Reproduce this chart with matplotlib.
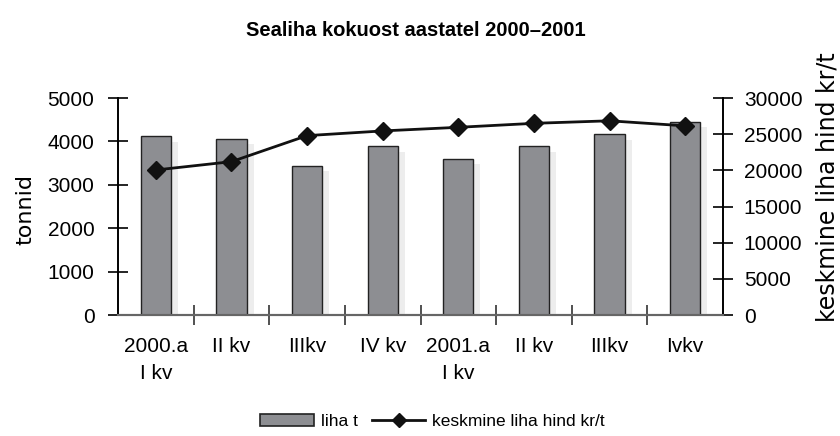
import matplotlib.pyplot as plt
import matplotlib.patheffects as pe
from matplotlib.lines import Line2D
from matplotlib.patches import Patch

# andmed
kvartalid = ["2000.a\nI kv", "II kv", "IIIkv", "IV kv", "2001.a\nI kv", "II kv", "IIIkv", "Ivkv"]
liha_t = [4120, 4060, 3440, 3890, 3600, 3890, 4170, 4450]
hind_kr_t = [20050, 21200, 24800, 25450, 25950, 26500, 26850, 26150]

plt.rcParams['font.family'] = ['Liberation Sans', 'DejaVu Sans']

fig = plt.figure(figsize=(8.4, 4.36), dpi=100)
ax = fig.add_axes([0.1405, 0.2775, 0.7202, 0.4977])
ax2 = ax.twinx()

x = list(range(len(kvartalid)))
varjud = [pe.SimplePatchShadow(offset=(5, -4), shadow_rgbFace='#c4c4c4', alpha=0.3), pe.Normal()]
ax.bar(x, liha_t, width=0.4, color='#8d8e92', edgecolor='#222222', linewidth=1,
       path_effects=varjud, zorder=2)
ax2.plot(x, hind_kr_t, color='#111111', linewidth=2, marker='D', markersize=9, zorder=3)

ax.set_xlim(-0.5, len(kvartalid) - 0.5)
ax.set_ylim(0, 5000)
ax2.set_ylim(0, 30000)
ax.set_yticks(range(0, 5001, 1000))
ax2.set_yticks(range(0, 30001, 5000))

# x-telje kriipsud kategooriate vahel
ax.set_xticks([i + 0.5 for i in x[:-1]], minor=True)
ax.set_xticks(x)
ax.set_xticklabels(kvartalid, fontsize=15, linespacing=1.55, multialignment='center')
ax.tick_params(axis='x', which='major', length=0, pad=16)
ax.tick_params(axis='x', which='minor', direction='inout', length=14, width=1.2, color='#333333')
ax.tick_params(axis='y', direction='inout', length=14, width=1.2, labelsize=15, pad=10)
ax2.tick_params(axis='y', direction='inout', length=14, width=1.2, labelsize=15, pad=8)

for a in (ax, ax2):
    a.spines['top'].set_visible(False)
    a.spines['left'].set_linewidth(1.2)
    a.spines['right'].set_linewidth(1.2)
    a.spines['bottom'].set_color('#666666')
    a.spines['bottom'].set_linewidth(1.5)
ax.set_zorder(ax2.get_zorder() - 1)
ax2.patch.set_visible(False)

fig.text(0.030, 0.52, "tonnid", rotation=90, ha='center', va='center',
         fontsize=16, family='DejaVu Sans')
fig.text(0.985, 0.57, "keskmine liha hind kr/t", rotation=90, ha='center', va='center',
         fontsize=17, family='DejaVu Sans')

fig.text(0.495, 0.931, "Sealiha kokuost aastatel 2000\u20132001", ha='center', va='center',
         fontsize=14.5, fontweight='bold')

kasitsejad = [Patch(facecolor='#8d8e92', edgecolor='#222222', linewidth=1.2),
              Line2D([0], [0], color='#111111', linewidth=2, marker='D', markersize=7)]
fig.legend(kasitsejad, ["liha t", "keskmine liha hind kr/t"], loc='center',
           bbox_to_anchor=(0.515, 0.033), ncol=2, frameon=False, fontsize=12.5,
           handlelength=3.1, handletextpad=0.4, columnspacing=0.8)

plt.savefig("out.png", dpi=100)
